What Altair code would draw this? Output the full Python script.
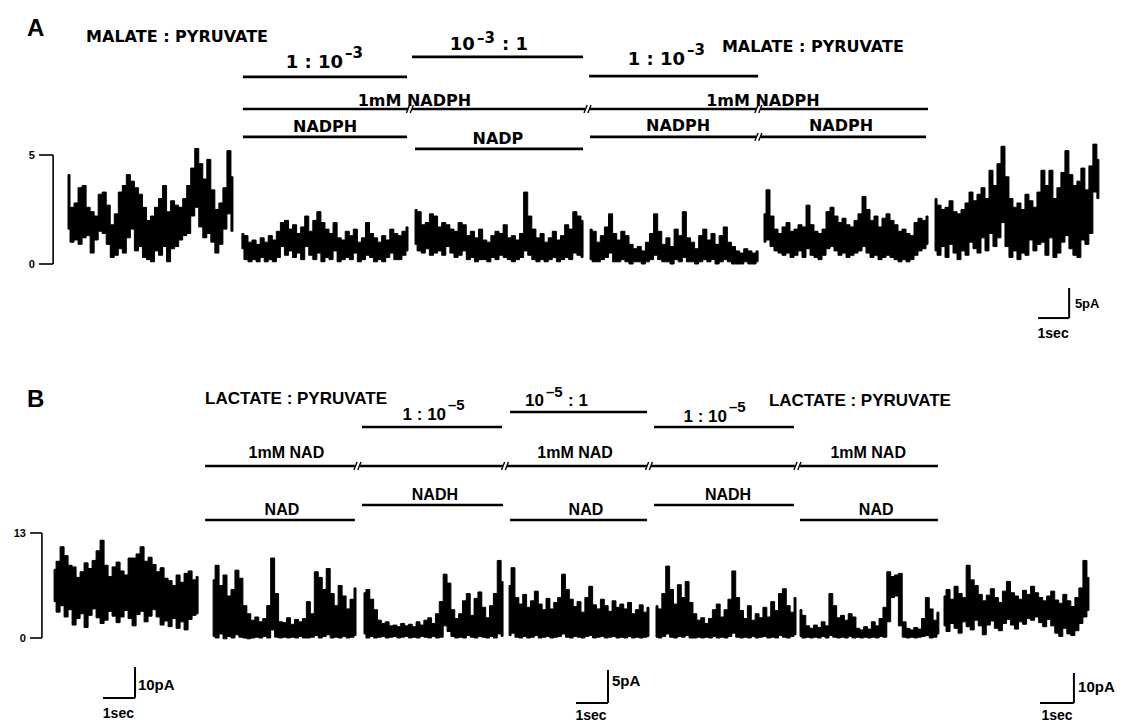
import altair as alt
import pandas as pd

# ---------------- scales (time in seconds: the 1 sec bar is 32 px) ----------------
W, H = 1126, 361
xs = alt.Scale(domain=[0, 1126 / 32], nice=False, zero=False)
ysA = alt.Scale(domain=[-4.45, 12.11], nice=False, zero=False)   # panel A bracket units 0..5
ysB = alt.Scale(domain=[-10.40, 34.29], nice=False, zero=False)  # panel B bracket units 0..13

FONT_A = "DejaVu Sans"
FONT_B = "Liberation Sans"

# ---------------- panel A current envelopes (max / min per sample) ----------------
A_SEGS = [(2.125, 7.28), (7.56, 12.75), (12.97, 18.22), (18.44, 23.69), (23.875, 29.0), (29.22, 34.34)]
A1_HI = [4.1,2.6,2.8,3.5,3.6,2.6,2.4,2.2,3.2,3.3,2.7,1.8,2.3,3.3,3.6,4.1,3.8,3.5,3.2,2.6,2.0,2.2,2.6,3.0,3.6,2.4,2.9,2.7,2.6,3.0,3.6,4.4,5.3,4.6,3.9,4.8,3.4,2.5,2.8,3.5,5.2,4.0]
A1_LO = [1.6,1.0,1.1,0.9,1.2,1.3,0.5,1.1,1.5,1.4,0.9,0.3,0.4,0.7,0.5,1.2,1.6,0.6,0.8,0.3,0.2,0.1,0.6,0.4,0.8,0.1,0.7,0.8,1.1,1.3,1.4,2.2,2.6,1.7,1.2,1.4,1.0,0.5,0.9,1.6,2.3,1.5]
A2_HI = [1.4,1.3,1.0,1.1,0.9,1.2,1.0,1.3,1.1,1.5,1.9,2.0,1.6,1.8,1.4,1.7,2.2,1.5,2.0,2.4,1.9,1.6,1.4,1.9,1.2,1.1,1.5,1.3,1.6,1.0,1.2,1.9,1.4,1.2,1.0,1.3,1.1,1.6,1.4,1.3,1.5,1.7]
A2_LO = [0.7,0.2,0.1,0.2,0.1,0.3,0.1,0.2,0.1,0.3,0.8,0.4,0.6,0.3,0.5,0.2,0.8,0.4,0.2,0.5,0.1,0.3,0.2,0.6,0.1,0.2,0.3,0.2,0.5,0.1,0.2,0.4,0.3,0.1,0.2,0.1,0.3,0.5,0.2,0.2,0.4,0.6]
A3_HI = [2.5,2.4,1.8,1.9,2.3,2.2,1.7,1.9,1.8,1.6,1.5,1.9,1.8,1.3,1.5,1.2,1.6,1.1,1.0,1.3,1.5,1.4,1.8,1.2,1.3,1.1,1.4,3.3,2.2,1.6,1.2,1.4,1.0,1.2,1.5,1.1,1.3,1.8,1.6,2.4,2.2,2.0]
A3_LO = [0.9,0.6,0.5,0.7,0.4,0.5,0.6,0.4,0.8,0.5,0.3,0.4,0.6,0.2,0.3,0.1,0.2,0.2,0.1,0.3,0.2,0.4,0.3,0.2,0.1,0.2,0.3,0.6,0.4,0.2,0.1,0.2,0.1,0.2,0.3,0.1,0.2,0.3,0.2,0.5,0.4,0.3]
A4_HI = [1.6,1.5,1.0,1.3,1.7,2.3,1.4,1.1,1.5,1.3,0.9,0.7,0.8,0.6,1.0,1.4,2.3,1.5,0.9,1.2,0.8,1.6,1.3,2.4,1.2,1.0,0.7,1.3,1.6,1.1,1.4,0.9,1.3,1.7,1.0,0.8,0.6,0.5,0.7,0.6,0.5,0.6]
A4_LO = [0.2,0.1,0.1,0.2,0.3,0.5,0.1,0.1,0.2,0.1,0.0,0.1,0.1,0.0,0.1,0.2,0.4,0.2,0.1,0.1,0.0,0.2,0.1,0.3,0.1,0.1,0.0,0.1,0.2,0.1,0.2,0.0,0.1,0.2,0.1,0.0,0.0,0.0,0.1,0.0,0.0,0.1]
A5_HI = [2.3,3.4,2.2,1.6,1.4,1.7,1.9,1.5,1.6,1.8,1.7,2.7,1.8,1.5,1.4,1.6,2.4,2.6,2.2,1.9,2.1,1.8,1.7,2.0,2.3,3.1,2.5,2.0,2.2,1.7,2.1,2.3,2.0,1.8,1.5,1.6,1.4,1.3,1.9,2.1,2.0,2.2]
A5_LO = [1.0,1.1,0.8,0.6,0.5,0.4,0.5,0.3,0.4,0.6,0.3,0.7,0.4,0.3,0.2,0.4,0.7,0.8,0.6,0.4,0.5,0.3,0.4,0.5,0.6,0.8,0.5,0.3,0.4,0.2,0.3,0.4,0.3,0.2,0.1,0.2,0.1,0.2,0.4,0.6,0.7,0.9]
A6_HI = [3.0,2.7,2.5,2.6,2.9,2.4,2.3,2.5,2.8,3.3,2.9,3.2,3.5,3.0,4.3,3.6,4.6,5.4,4.0,3.0,2.6,2.8,2.5,3.2,2.9,2.6,3.3,4.3,3.6,4.3,3.0,3.5,4.2,5.2,4.1,3.6,3.8,4.4,3.4,4.5,5.5,4.8]
A6_LO = [0.6,0.4,0.8,0.3,0.9,0.5,0.2,0.6,0.4,1.0,0.7,0.5,1.2,0.6,1.4,0.8,1.2,1.9,0.8,0.3,0.6,0.2,0.5,0.4,1.1,0.6,0.9,1.0,0.4,1.2,0.3,0.5,1.0,1.3,0.7,0.4,0.3,1.1,0.9,1.4,3.3,3.0]

# ---------------- panel B current envelopes ----------------
B_SEGS = [(1.69, 6.19), (6.66, 11.125), (11.375, 15.72), (15.91, 20.28), (20.5, 24.875), (25.0, 29.34), (29.5, 34.03)]
B1_HI = [8.5,9.5,11.3,10.2,9.0,8.8,7.5,8.2,9.3,8.6,9.6,10.8,12.1,9.0,7.6,8.8,9.4,8.3,7.8,9.9,9.9,10.4,11.3,9.5,10.0,9.1,8.2,8.7,7.4,7.1,6.5,7.8,6.9,8.0,8.3,7.2,7.6]
B1_LO = [4.5,3.2,4.0,2.6,3.5,1.6,2.4,3.0,1.3,2.8,3.6,2.5,1.8,2.2,3.3,2.7,1.9,2.6,3.4,2.4,1.5,2.9,3.3,2.0,2.7,3.5,2.6,1.6,2.1,1.4,2.4,1.2,2.0,1.0,2.3,2.8,3.0]
B2_HI = [7.2,9.0,6.5,7.8,5.2,6.0,8.4,7.4,4.0,3.0,2.2,2.6,2.0,2.4,4.0,9.9,5.5,2.0,1.9,2.5,1.7,2.3,2.0,2.4,4.5,3.0,8.2,7.5,6.0,8.6,5.5,4.0,6.5,5.2,3.6,4.8,6.2]
B2_LO = [0.2,0.0,0.5,-0.1,0.2,0.0,0.4,0.1,0.0,-0.1,0.0,0.1,0.0,0.2,0.0,1.0,0.1,0.0,0.1,0.0,0.1,0.0,0.2,0.0,0.0,0.1,0.3,0.0,0.2,0.4,0.0,0.1,0.0,0.2,0.0,0.1,0.3]
B3_HI = [5.6,6.0,4.8,3.5,2.2,1.8,2.0,1.5,1.6,1.4,1.8,1.5,1.7,1.4,2.0,1.6,2.2,2.5,1.8,3.0,4.5,7.9,6.8,3.5,2.4,3.0,4.6,5.5,2.8,4.9,5.7,3.8,2.5,4.0,5.5,9.6,7.0]
B3_LO = [0.5,0.0,0.2,0.0,0.1,0.2,0.0,0.1,0.2,0.0,0.1,0.2,0.0,0.1,0.0,0.2,0.1,0.0,0.2,0.0,0.1,1.5,0.8,0.2,0.0,0.1,0.0,0.3,0.1,0.0,0.2,0.1,0.0,0.2,0.0,0.5,0.2]
B4_HI = [6.5,8.7,5.0,4.2,5.4,3.8,4.6,5.8,4.2,3.5,4.9,3.6,4.4,5.0,7.9,6.0,4.8,3.9,4.5,3.2,5.0,6.4,4.1,3.6,4.8,4.0,3.3,4.6,3.8,4.2,3.6,4.4,3.0,3.5,4.1,3.2,3.8]
B4_LO = [0.3,0.6,0.1,0.0,0.2,0.0,0.1,0.3,0.0,0.1,0.2,0.0,0.1,0.2,0.5,0.1,0.0,0.2,0.1,0.0,0.2,0.3,0.0,0.1,0.2,0.0,0.1,0.2,0.0,0.1,0.0,0.2,0.0,0.1,0.0,0.1,0.2]
B5_HI = [4.0,3.6,5.5,8.9,6.0,4.2,6.6,5.0,7.0,4.4,3.0,2.2,2.5,1.8,2.4,3.5,4.2,2.6,3.5,4.8,8.3,5.0,3.4,2.4,4.0,2.2,3.0,2.5,3.8,2.6,4.5,3.4,5.5,6.1,4.0,3.2,5.0]
B5_LO = [0.1,0.0,0.2,0.5,0.1,0.0,0.2,0.1,0.3,0.0,0.0,0.1,0.0,0.1,0.0,0.2,0.0,0.1,0.0,0.2,0.6,0.1,0.0,0.1,0.0,0.2,0.0,0.1,0.2,0.0,0.1,0.0,0.3,0.1,0.0,0.2,0.4]
B6_HI = [3.5,2.8,1.5,1.2,1.6,1.3,2.0,1.5,5.5,4.0,2.5,2.8,2.2,3.0,2.6,1.2,1.0,1.4,1.1,2.0,1.5,2.4,3.8,8.2,7.6,7.8,8.0,2.0,1.2,1.0,1.3,1.1,2.4,5.0,3.6,2.2,3.2]
B6_LO = [0.2,0.0,0.1,0.0,0.1,0.0,0.2,0.0,0.3,0.1,0.0,0.1,0.0,0.2,0.0,0.1,0.0,0.1,0.0,0.1,0.0,0.2,0.1,2.0,5.0,5.2,1.5,0.1,0.0,0.1,0.0,0.1,0.2,0.3,0.0,0.1,0.5]
B7_HI = [5.2,6.0,4.8,6.4,5.5,5.0,9.0,7.2,6.5,5.4,4.6,5.3,6.1,5.0,4.4,5.8,7.0,5.6,5.2,4.8,5.9,5.4,6.4,5.6,5.0,4.6,5.2,5.8,4.7,4.3,5.4,4.6,3.9,5.0,6.2,9.6,7.5]
B7_LO = [1.5,0.8,1.8,1.2,0.6,2.0,1.4,1.0,2.2,1.5,0.4,1.6,2.1,1.2,0.9,1.8,2.3,1.6,1.1,2.0,1.7,2.4,2.2,2.6,1.9,1.4,2.3,1.5,0.6,0.2,1.2,0.5,0.3,0.9,1.8,2.6,3.4]


def trace_df(segs, his, los):
    rows = []
    for k, ((t0, t1), hi, lo) in enumerate(zip(segs, his, los)):
        n = min(len(hi), len(lo))
        for i in range(n):
            rows.append(dict(seg=k, t=t0 + (t1 - t0) * i / (n - 1), hi=hi[i], lo=lo[i]))
    return pd.DataFrame(rows)


def trace_layer(df, ys):
    return alt.Chart(df).mark_area(color="black", stroke="black", strokeWidth=1.0,
                                   interpolate="step").encode(
        x=alt.X("t:Q", scale=xs, axis=None),
        y=alt.Y("hi:Q", scale=ys, axis=None),
        y2="lo:Q",
        detail="seg:N",
    )


def rule_layer(x1, x2, y1, y2, ys, width):
    df = pd.DataFrame({"x": x1, "x2": x2, "y": y1, "y2": y2})
    return alt.Chart(df).mark_rule(color="black", strokeWidth=width, strokeCap="butt").encode(
        x=alt.X("x:Q", scale=xs, axis=None), x2="x2:Q",
        y=alt.Y("y:Q", scale=ys, axis=None), y2="y2:Q",
    )


def text_layer(xv, yv, labels, ys, size, align="center", font=FONT_A, weight="bold"):
    df = pd.DataFrame({"x": xv, "y": yv, "label": labels})
    return alt.Chart(df).mark_text(align=align, baseline="alphabetic", font=font,
                                   fontSize=size, fontWeight=weight, color="black").encode(
        x=alt.X("x:Q", scale=xs, axis=None),
        y=alt.Y("y:Q", scale=ys, axis=None),
        text="label:N",
    )


def breaks(xb_list, y, dy, ys):
    x1, x2, y1, y2 = [], [], [], []
    for xb in xb_list:
        for off in (-0.06, 0.06):
            x1.append(xb + off - 0.05); x2.append(xb + off + 0.05)
            y1.append(y - dy); y2.append(y + dy)
    return rule_layer(x1, x2, y1, y2, ys, 1.4)


# ---------------- panel A annotations ----------------
A_BAR_X1 = [7.59, 12.875, 18.41]
A_BAR_X2 = [12.72, 18.22, 23.69]
A_BAR_Y = [8.58, 9.50, 8.62]
A_NADPH_LINE_X1 = [7.59, 12.875, 18.44, 23.78]
A_NADPH_LINE_X2 = [12.75, 18.28, 23.625, 29.0]
A_NADPH_LINE_Y = 7.11
A_SUB_X1 = [7.59, 12.97, 18.44, 23.78]
A_SUB_X2 = [12.72, 18.22, 23.625, 28.94]
A_SUB_Y = [5.83, 5.28, 5.83, 5.83]

A_LABELS = ["1mM NADPH", "1mM NADPH", "NADPH", "NADP", "NADPH", "NADPH"]
A_LABEL_X = [12.95, 23.84, 10.16, 15.56, 21.19, 26.28]
A_LABEL_Y = [7.25, 7.25, 6.06, 5.50, 6.10, 6.10]

panelA = alt.layer(
    trace_layer(trace_df(A_SEGS, [A1_HI, A2_HI, A3_HI, A4_HI, A5_HI, A6_HI],
                         [A1_LO, A2_LO, A3_LO, A4_LO, A5_LO, A6_LO]), ysA),
    rule_layer(A_BAR_X1, A_BAR_X2, A_BAR_Y, A_BAR_Y, ysA, 2.8),
    rule_layer(A_NADPH_LINE_X1, A_NADPH_LINE_X2, [A_NADPH_LINE_Y] * 4, [A_NADPH_LINE_Y] * 4, ysA, 2.6),
    breaks([12.81, 18.36, 23.70], A_NADPH_LINE_Y, 0.18, ysA),
    rule_layer(A_SUB_X1, A_SUB_X2, A_SUB_Y, A_SUB_Y, ysA, 2.6),
    breaks([23.70], 5.83, 0.18, ysA),
    text_layer(A_LABEL_X, A_LABEL_Y, A_LABELS, ysA, 16),
    text_layer([0.84], [10.46], ["A"], ysA, 24, align="left", font=FONT_B),
    text_layer([2.69, 22.56], [10.18, 9.72], ["MALATE : PYRUVATE", "MALATE : PYRUVATE"], ysA, 16, align="left"),
    text_layer([10.72, 14.84, 21.41], [8.99, 9.82, 9.13], ["1 : 10", "10", "1 : 10"], ysA, 18, align="right"),
    text_layer([10.78, 14.91, 21.47], [9.45, 10.14, 9.59], ["–3", "–3", "–3"], ysA, 15, align="left"),
    text_layer([15.69], [9.82], [": 1"], ysA, 18, align="left"),
    # bracket 0..5
    rule_layer([1.66], [1.66], [0], [5], ysA, 1.6),
    rule_layer([1.22, 1.22], [1.66, 1.66], [0, 5], [0, 5], ysA, 1.6),
    text_layer([1.09, 1.09], [-0.2, 4.8], ["0", "5"], ysA, 11, align="right", font=FONT_B),
    # calibration
    rule_layer([33.41, 32.44], [33.41, 33.41], [-1.10, -2.48], [-2.48, -2.48], ysA, 2.0),
    text_layer([33.59], [-2.02], ["5pA"], ysA, 13, align="left", font=FONT_B),
    text_layer([32.91], [-3.39], ["1sec"], ysA, 14, font=FONT_B),
).properties(width=W, height=H)

# ---------------- panel B annotations ----------------
B_BAR_X1 = [11.31, 15.94, 20.44]
B_BAR_X2 = [15.69, 20.22, 24.81]
B_BAR_Y = [26.12, 27.98, 26.12]
B_NAD_LINE_X1 = [6.41, 11.25, 15.84, 20.34, 25.0]
B_NAD_LINE_X2 = [11.09, 15.72, 20.22, 24.84, 29.31]
B_NAD_LINE_Y = 21.30
B_SUB_X1 = [6.41, 11.31, 15.94, 20.44, 25.0]
B_SUB_X2 = [11.09, 15.72, 20.22, 24.81, 29.31]
B_SUB_Y = [14.61, 16.47, 14.61, 16.47, 14.61]

B_LABELS = ["1mM NAD", "1mM NAD", "1mM NAD", "NADH", "NADH", "NAD", "NAD", "NAD"]
B_LABEL_X = [8.95, 17.97, 27.13, 13.59, 22.75, 8.81, 18.31, 27.38]
B_LABEL_Y = [22.29, 22.29, 22.29, 17.09, 17.09, 15.23, 15.23, 15.23]

panelB = alt.layer(
    trace_layer(trace_df(B_SEGS, [B1_HI, B2_HI, B3_HI, B4_HI, B5_HI, B6_HI, B7_HI],
                         [B1_LO, B2_LO, B3_LO, B4_LO, B5_LO, B6_LO, B7_LO]), ysB),
    rule_layer(B_BAR_X1, B_BAR_X2, B_BAR_Y, B_BAR_Y, ysB, 2.6),
    rule_layer(B_NAD_LINE_X1, B_NAD_LINE_X2, [B_NAD_LINE_Y] * 5, [B_NAD_LINE_Y] * 5, ysB, 2.4),
    breaks([11.17, 15.78, 20.28, 24.92], B_NAD_LINE_Y, 0.5, ysB),
    rule_layer(B_SUB_X1, B_SUB_X2, B_SUB_Y, B_SUB_Y, ysB, 2.4),
    text_layer(B_LABEL_X, B_LABEL_Y, B_LABELS, ysB, 16, font=FONT_B),
    text_layer([0.84], [28.6], ["B"], ysB, 24, align="left", font=FONT_B),
    text_layer([6.41, 24.03], [29.0, 28.72], ["LACTATE : PYRUVATE", "LACTATE : PYRUVATE"], ysB, 17,
               align="left", font=FONT_B),
    text_layer([13.94, 17.0, 22.72], [26.99, 28.72, 26.74], ["1 : 10", "10", "1 : 10"], ysB, 17,
               align="right", font=FONT_B),
    text_layer([14.0, 17.06, 22.78], [28.2, 29.84, 27.98], ["–5", "–5", "–5"], ysB, 15,
               align="left", font=FONT_B),
    text_layer([17.75], [28.72], [": 1"], ysB, 17, align="left", font=FONT_B),
    # bracket 0..13
    rule_layer([1.31], [1.31], [0], [13], ysB, 1.6),
    rule_layer([0.94, 0.94], [1.31, 1.31], [0, 13], [0, 13], ysB, 1.6),
    text_layer([0.81, 0.81], [-0.5, 12.5], ["0", "13"], ysB, 11, align="right", font=FONT_B),
    # calibrations
    rule_layer([4.22, 3.22, 19.0, 18.0, 33.56, 32.5], [4.22, 4.22, 19.0, 19.0, 33.56, 33.56],
               [-3.59, -7.43, -3.96, -8.05, -4.33, -8.05], [-7.43, -7.43, -8.05, -8.05, -8.05, -8.05],
               ysB, 2.0),
    text_layer([4.31, 19.125, 33.69], [-6.44, -5.94, -6.69], ["10pA", "5pA", "10pA"], ysB, 15,
               align="left", font=FONT_B),
    text_layer([3.70, 18.47, 33.03], [-9.90, -10.15, -10.15], ["1sec", "1sec", "1sec"], ysB, 14,
               font=FONT_B),
).properties(width=W, height=H)

chart = alt.vconcat(panelA, panelB, spacing=0).properties(
    padding=0, background="white"
).configure_view(stroke=None)

chart.save("out.html", embed_options={"renderer": "svg", "actions": False})
